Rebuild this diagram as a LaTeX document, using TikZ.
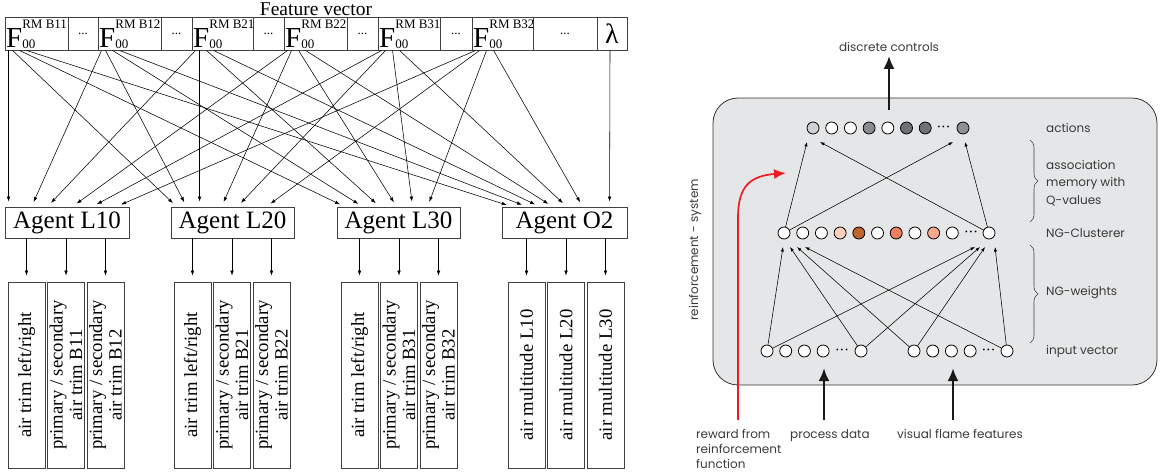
\documentclass[tikz,border=0pt]{standalone}
\usepackage{fontspec}
\setmainfont{Liberation Serif}
\newfontfamily\rfont{Poppins}
\usetikzlibrary{arrows.meta,calc,decorations.pathreplacing}
\newcommand\fsz[1]{\fontsize{#1}{#1}\selectfont}
\newcommand\fss[1]{{\fsz{13}\rlap{\raisebox{-0.5pt}{00}}\raisebox{19pt}{#1}}}
\newcommand\bdots{•\hspace{2pt}•\hspace{2pt}•}
\definecolor{boxgray}{HTML}{E5E6E7}
\definecolor{txtgray}{HTML}{3A3A3A}
\definecolor{actA}{HTML}{CFD0D1}
\definecolor{actB}{HTML}{8A8B8D}
\definecolor{actC}{HTML}{707173}
\definecolor{actD}{HTML}{8F9092}
\definecolor{ngA}{HTML}{FCD0BE}
\definecolor{ngB}{HTML}{C0642D}
\definecolor{ngC}{HTML}{F27E60}
\definecolor{ngD}{HTML}{F8A98B}
\definecolor{redarr}{HTML}{ED1C24}
\begin{document}
\begin{tikzpicture}[x=1pt,y=-1pt,
  box/.style={draw=black!75, line width=0.9pt, inner sep=0pt},
  cell/.style={box, minimum height=33pt, font=\fsz{13}},
  flab/.style={inner sep=0pt, font=\fsz{29}},
  agent/.style={box, minimum height=31pt, font=\fsz{25}},
  outbox/.style={box, minimum width=37pt, minimum height=186pt},
  outtxt/.style={rotate=90, align=center, inner sep=0pt, font=\fontsize{18.7}{19.5}\selectfont},
  fl/.style={line width=0.55pt, -{Latex[length=5pt,width=3.6pt]}, shorten >=5pt},
  ol/.style={line width=0.55pt, -{Latex[length=5pt,width=3.6pt]}, shorten >=6pt},
  circ/.style={circle, draw=black, line width=0.8pt, minimum size=12pt, inner sep=0pt, fill=white},
  dotsn/.style={inner sep=0pt, font=\fsz{7.5}},
  rtxt/.style={inner sep=1pt, text=txtgray, font=\rfont\fontsize{12}{17.5}\selectfont},
  sa/.style={line width=0.55pt, -{Latex[length=4.5pt,width=3.2pt]}},
  thk/.style={line width=2.6pt, draw=black!90, -{Latex[length=13pt,width=11pt]}},
  brc/.style={draw=black!75, line width=0.6pt, decorate, decoration={brace, amplitude=8pt}},
  redarrow/.style={draw=redarr, line width=1.7pt, -{Latex[length=12pt,width=10pt]}}
]
\useasboundingbox (0,0) rectangle (1161,475);

% ---------------- left: feature vector ----------------
\node[inner sep=0pt, font=\fsz{19.5}, anchor=base] (fvt) at (316,15) {Feature vector};
\node[cell, minimum width=63pt] (c1) at (36.5,33.5) {};
\node[cell, minimum width=30pt] (d1) at (83,33.5) {...};
\node[cell, minimum width=63pt] (c2) at (129.5,33.5) {};
\node[cell, minimum width=31pt] (d2) at (176.5,33.5) {...};
\node[cell, minimum width=61pt] (c3) at (222.5,33.5) {};
\node[cell, minimum width=31pt] (d3) at (268.5,33.5) {...};
\node[cell, minimum width=63pt] (c4) at (315.5,33.5) {};
\node[cell, minimum width=31pt] (d4) at (362.5,33.5) {...};
\node[cell, minimum width=62pt] (c5) at (409,33.5) {};
\node[cell, minimum width=32pt] (d5) at (456,33.5) {...};
\node[cell, minimum width=61pt] (c6) at (502.5,33.5) {};
\node[cell, minimum width=64pt] (d6) at (565,33.5) {...};
\node[cell, minimum width=30pt, font=\fsz{28}] (cl) at (612,33.5) {λ};

\node[flab, anchor=base west] (f1) at (6,47.5) {F\fss{RM B11}};
\node[flab, anchor=base west] (f2) at (99,47.5) {F\fss{RM B12}};
\node[flab, anchor=base west] (f3) at (193,47.5) {F\fss{RM B21}};
\node[flab, anchor=base west] (f4) at (285,47.5) {F\fss{RM B22}};
\node[flab, anchor=base west] (f5) at (379,47.5) {F\fss{RM B31}};
\node[flab, anchor=base west] (f6) at (473,47.5) {F\fss{RM B32}};

% agents
\node[agent, minimum width=124pt] (A1) at (67,222.5) {Agent L10};
\node[agent, minimum width=123pt] (A2) at (232.5,222.5) {Agent L20};
\node[agent, minimum width=123pt] (A3) at (398.5,222.5) {Agent L30};
\node[agent, minimum width=125pt] (A4) at (564.5,222.5) {Agent O2};

% feature -> agent connectors
\foreach \s [count=\k] in {4,27,43,68,88,112}
  \draw[fl] ([xshift=4pt]c\k.south west) -- ([xshift=\s pt]A1.north west);
\foreach \s [count=\k] in {6,16,29,51,67,96}
  \draw[fl] ([xshift=8pt]c\k.south west) -- ([xshift=\s pt]A2.north west);
\foreach \s [count=\k] in {8,26,43,60,76,91}
  \draw[fl] ([xshift=15pt]c\k.south west) -- ([xshift=\s pt]A3.north west);
\foreach \s [count=\k] in {10,25,38,51,65,81}
  \draw[fl] ([xshift=22pt]c\k.south west) -- ([xshift=\s pt]A4.north west);
\draw[fl] ([xshift=-2pt]cl.south) -- ([xshift=108pt]A4.north west);

% output boxes
\node[outbox] (o11) at (26.5,375) {};
\node[outbox] (o12) at (66,375) {};
\node[outbox] (o13) at (105.5,375) {};
\node[outbox] (o21) at (192.5,375) {};
\node[outbox] (o22) at (232,375) {};
\node[outbox] (o23) at (271.5,375) {};
\node[outbox] (o31) at (359.5,375) {};
\node[outbox] (o32) at (399,375) {};
\node[outbox] (o33) at (438.5,375) {};
\node[outbox] (o41) at (526.5,375) {};
\node[outbox] (o42) at (566,375) {};
\node[outbox] (o43) at (605.5,375) {};

\node[outtxt] (t11) at (o11) {air trim left/right};
\node[outtxt] (t12) at (o12) {primary / secondary\\air trim B11};
\node[outtxt] (t13) at (o13) {primary / secondary\\air trim B12};
\node[outtxt] (t21) at (o21) {air trim left/right};
\node[outtxt] (t22) at (o22) {primary / secondary\\air trim B21};
\node[outtxt] (t23) at (o23) {primary / secondary\\air trim B22};
\node[outtxt] (t31) at (o31) {air trim left/right};
\node[outtxt] (t32) at (o32) {primary / secondary\\air trim B31};
\node[outtxt] (t33) at (o33) {primary / secondary\\air trim B32};
\node[outtxt] (t41) at (o41) {air multitude L10};
\node[outtxt] (t42) at (o42) {air multitude L20};
\node[outtxt] (t43) at (o43) {air multitude L30};

\foreach \a/\o in {A1/o11,A1/o12,A1/o13,A2/o21,A2/o22,A2/o23,A3/o31,A3/o32,A3/o33,A4/o41,A4/o42,A4/o43}
  \draw[ol] (\a.south -| \o.north) -- (\o.north);

% ---------------- right: reinforcement system ----------------
\node[draw=black!80, line width=0.8pt, fill=boxgray, rounded corners=25pt,
      minimum width=444pt, minimum height=287pt, inner sep=0pt] (sys) at (935,241.5) {};

% actions
\node[circ, fill=actA] (a1) at (813,128) {};
\node[circ] (a2) at (831.7,128) {};
\node[circ] (a3) at (850.4,128) {};
\node[circ, fill=actB] (a4) at (869.1,128) {};
\node[circ] (a5) at (887.8,128) {};
\node[circ, fill=actC] (a6) at (906.5,128) {};
\node[circ, fill=actC] (a7) at (925.2,128) {};
\node[dotsn] (ad) at (943.5,128) {\bdots};
\node[circ, fill=actD] (a8) at (963,128) {};

% NG-Clusterer
\node[circ] (n1) at (784,233) {};
\node[circ] (n2) at (802.7,233) {};
\node[circ] (n3) at (821.4,233) {};
\node[circ, fill=ngA] (n4) at (840.1,233) {};
\node[circ, fill=ngB] (n5) at (858.8,233) {};
\node[circ] (n6) at (877.5,233) {};
\node[circ, fill=ngC] (n7) at (896.2,233) {};
\node[circ] (n8) at (914.9,233) {};
\node[circ, fill=ngD] (n9) at (933.6,233) {};
\node[circ] (n10) at (952.3,233) {};
\node[dotsn] (nd) at (971,233) {\bdots};
\node[circ] (n11) at (989,233) {};

% input vector
\node[circ] (i1) at (767,351) {};
\node[circ] (i2) at (785.7,351) {};
\node[circ] (i3) at (804.4,351) {};
\node[circ] (i4) at (823.1,351) {};
\node[dotsn] (id) at (842,351) {\bdots};
\node[circ] (i6) at (861,351) {};
\node[circ] (j1) at (914,351) {};
\node[circ] (j2) at (932.7,351) {};
\node[circ] (j3) at (951.4,351) {};
\node[circ] (j4) at (970.1,351) {};
\node[dotsn] (jd) at (988.5,351) {\bdots};
\node[circ] (j6) at (1007,351) {};

% NG -> actions
\draw[sa] (n1) -- ($(a1)+(-6,14)$);
\draw[sa] (n1) -- ($(a8)+(-10,14)$);
\draw[sa] (n11) -- ($(a8)+(2,14)$);
\draw[sa] (n11) -- ($(a1)+(7,14)$);

% input -> NG
\draw[sa] (i1) -- ($(n1)+(-1,14)$);
\draw[sa] (i1) -- ($(n11)+(-14,14)$);
\draw[sa] (i6) -- ($(n1)+(6,14)$);
\draw[sa] (i6) -- ($(n11)+(-9,14)$);
\draw[sa] (j1) -- ($(n1)+(13,14)$);
\draw[sa] (j1) -- ($(n11)+(-4,14)$);
\draw[sa] (j6) -- ($(n1)+(21,14)$);
\draw[sa] (j6) -- ($(n11)+(6,14)$);

% labels right
\node[rtxt] (dc) at (889,47) {discrete controls};
\node[rtxt, anchor=west] (lact) at (1045,128) {actions};
\node[rtxt, anchor=west, align=left] (lasm) at (1045,183) {association\\memory with\\Q-values};
\node[rtxt, anchor=west] (lngc) at (1045,233) {NG-Clusterer};
\node[rtxt, anchor=west] (lngw) at (1045,293) {NG-weights};
\node[rtxt, anchor=west] (linp) at (1045,351) {input vector};
\node[rtxt, rotate=90] (lrs) at (695,250) {reinforcement - system};
\node[rtxt, anchor=base west, align=left, font=\rfont\fontsize{12}{15}\selectfont] (lrw) at (695,468) {reward from\\reinforcement\\function};
\node[rtxt, anchor=base west] (lpd) at (789,438) {process data};
\node[rtxt, anchor=base west] (lvf) at (896,438) {visual flame features};

% braces
\draw[brc] (1030,140) -- (1030,222);
\draw[brc] (1030,245) -- (1030,343);

% thick arrows
\coordinate (dcb) at (889,110);
\draw[thk, shorten >=3pt] (dcb) -- (dc.south);
\coordinate (pdb) at (824,420);
\coordinate (pdt) at (824,368);
\draw[thk] (pdb) -- (pdt);
\coordinate (vfb) at (953,420);
\coordinate (vft) at (953,368);
\draw[thk] (vfb) -- (vft);

% red reinforcement arrow
\coordinate (rb) at (738,420);
\coordinate (rt) at (786,173);
\draw[redarrow] (rb) -- (738,218) .. controls (738,186) and (750,176) .. (rt);
\end{tikzpicture}
\end{document}
